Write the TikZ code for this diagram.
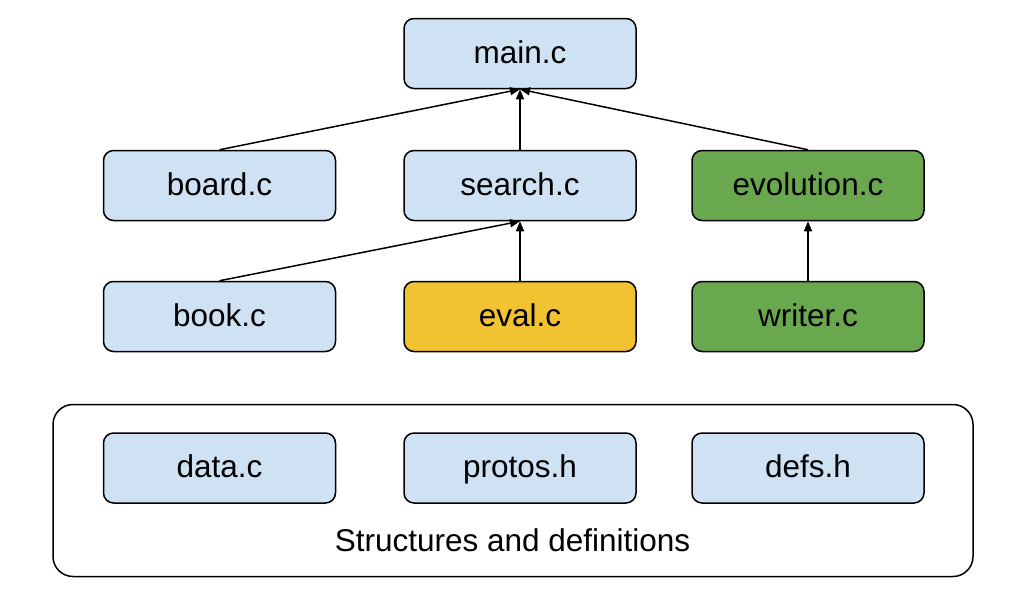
\documentclass[tikz,border=0pt]{standalone}
\usepackage{fontspec}
\setmainfont{Liberation Sans}
\usetikzlibrary{arrows.meta}
\definecolor{boxblue}{HTML}{CFE2F3}
\definecolor{boxyellow}{HTML}{F1C232}
\definecolor{boxgreen}{HTML}{6AA84F}
\tikzset{
  filebox/.style={draw=black, line width=1.5pt, rounded corners=10pt,
    minimum width=232pt, minimum height=70pt, inner sep=0pt,
    text height=19.5pt, text depth=0pt,
    font=\fontsize{31.5}{36}\selectfont},
  bluebox/.style={filebox, fill=boxblue},
  yellowbox/.style={filebox, fill=boxyellow},
  greenbox/.style={filebox, fill=boxgreen},
  dep/.style={draw=black, line width=1.5pt, -{Triangle[length=10pt,width=8pt]}},
  groupbox/.style={draw=black, line width=1.5pt, rounded corners=20pt}
}
\begin{document}
\begin{tikzpicture}[x=1pt,y=-1pt]
\useasboundingbox (0,0) rectangle (1026,592);
\node[groupbox, minimum width=920pt, minimum height=172pt, inner sep=0pt] (group) at (513,490.5) {};
\node[bluebox] (main) at (520,53.5) {main.c};
\node[bluebox] (board) at (219.5,185.5) {board.c};
\node[bluebox] (search) at (520,185.5) {search.c};
\node[greenbox] (evolution) at (808,185.5) {evolution.c};
\node[bluebox] (book) at (219.5,316.5) {book.c};
\node[yellowbox] (eval) at (520,316.5) {eval.c};
\node[greenbox] (writer) at (808,316.5) {writer.c};
\node[bluebox] (data) at (219.5,468) {data.c};
\node[bluebox] (protos) at (520,468) {protos.h};
\node[bluebox] (defs) at (808,468) {defs.h};
\node[anchor=base, inner sep=0pt, font=\fontsize{31.5}{36}\selectfont] (grouplabel) at (512.5,551) {Structures and definitions};
\draw[dep] (board.north) -- (main.south);
\draw[dep] (search.north) -- (main.south);
\draw[dep] (evolution.north) -- (main.south);
\draw[dep] (book.north) -- (search.south);
\draw[dep] (eval.north) -- (search.south);
\draw[dep] (writer.north) -- (evolution.south);
\end{tikzpicture}
\end{document}
